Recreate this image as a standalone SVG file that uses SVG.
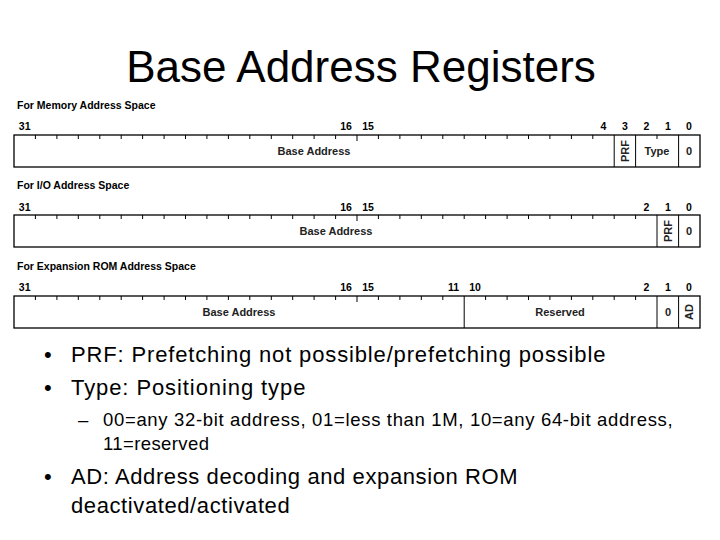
<svg xmlns="http://www.w3.org/2000/svg" width="720" height="540" viewBox="0 0 720 540">
<style>
.t{font-family:"Liberation Sans",Arial,sans-serif;fill:#000}
.s{font-size:10.5px;font-weight:bold}
.n{font-size:10.5px;font-weight:bold;text-anchor:middle}
.c{font-size:11px;font-weight:bold;text-anchor:middle;fill:#222}
.box{fill:#fff;stroke:#000;stroke-width:1.3}
.tk{stroke:#000;stroke-width:1}
.b{font-size:22px;letter-spacing:0.6px}
.b2{font-size:18.5px;letter-spacing:0.4px}
</style>
<rect width="720" height="540" fill="#fff"/>
<text class="t" x="361" y="82" font-size="44" text-anchor="middle">Base Address Registers</text>

<g id="reg-mem">
<text class="t s" x="17" y="109">For Memory Address Space</text>
<text class="t n" x="24.7" y="130">31</text><text class="t n" x="346" y="130">16</text><text class="t n" x="368" y="130">15</text><text class="t n" x="603.5" y="130">4</text><text class="t n" x="625" y="130">3</text><text class="t n" x="646.5" y="130">2</text><text class="t n" x="668" y="130">1</text><text class="t n" x="689" y="130">0</text>
<rect class="box" x="14" y="135" width="686" height="32"/>
<path class="tk" d="M35.4 135v4M56.9 135v4M78.3 135v4M99.8 135v4M121.2 135v4M142.6 135v4M164.1 135v4M185.5 135v4M206.9 135v4M228.4 135v4M249.8 135v4M271.3 135v4M292.7 135v4M314.1 135v4M335.6 135v4M357 135v6M378.4 135v4M399.9 135v4M421.3 135v4M442.8 135v4M464.2 135v4M485.6 135v4M507.1 135v4M528.5 135v4M549.9 135v4M571.4 135v4M592.8 135v4M657 135v4"/>
<path class="tk" d="M614.2 135v32M635.6 135v32M678.6 135v32"/>
<text class="t c" x="314" y="155">Base Address</text>
<text class="t c" transform="translate(629,151) rotate(-90)">PRF</text>
<text class="t c" x="657" y="155">Type</text>
<text class="t c" x="689" y="155">0</text>
</g>

<g id="reg-io">
<text class="t s" x="17" y="189">For I/O Address Space</text>
<text class="t n" x="24.7" y="211">31</text><text class="t n" x="346" y="211">16</text><text class="t n" x="368" y="211">15</text><text class="t n" x="646.5" y="211">2</text><text class="t n" x="668" y="211">1</text><text class="t n" x="689" y="211">0</text>
<rect class="box" x="14" y="215" width="686" height="32"/>
<path class="tk" d="M35.4 215v4M56.9 215v4M78.3 215v4M99.8 215v4M121.2 215v4M142.6 215v4M164.1 215v4M185.5 215v4M206.9 215v4M228.4 215v4M249.8 215v4M271.3 215v4M292.7 215v4M314.1 215v4M335.6 215v4M357 215v6M378.4 215v4M399.9 215v4M421.3 215v4M442.8 215v4M464.2 215v4M485.6 215v4M507.1 215v4M528.5 215v4M549.9 215v4M571.4 215v4M592.8 215v4M614.2 215v4M635.6 215v4"/>
<path class="tk" d="M657 215v32M678.6 215v32"/>
<text class="t c" x="336" y="235">Base Address</text>
<text class="t c" transform="translate(671.5,231) rotate(-90)">PRF</text>
<text class="t c" x="689" y="235">0</text>
</g>

<g id="reg-rom">
<text class="t s" x="17" y="270">For Expansion ROM Address Space</text>
<text class="t n" x="24.7" y="291">31</text><text class="t n" x="346" y="291">16</text><text class="t n" x="368" y="291">15</text><text class="t n" x="453.5" y="291">11</text><text class="t n" x="475" y="291">10</text><text class="t n" x="646.5" y="291">2</text><text class="t n" x="668" y="291">1</text><text class="t n" x="689" y="291">0</text>
<rect class="box" x="14" y="296" width="686" height="32"/>
<path class="tk" d="M35.4 296v4M56.9 296v4M78.3 296v4M99.8 296v4M121.2 296v4M142.6 296v4M164.1 296v4M185.5 296v4M206.9 296v4M228.4 296v4M249.8 296v4M271.3 296v4M292.7 296v4M314.1 296v4M335.6 296v4M357 296v6M378.4 296v4M399.9 296v4M421.3 296v4M442.8 296v4M485.6 296v4M507.1 296v4M528.5 296v4M549.9 296v4M571.4 296v4M592.8 296v4M614.2 296v4M635.6 296v4"/>
<path class="tk" d="M464.2 296v32M657 296v32M678.6 296v32"/>
<text class="t c" x="239" y="316">Base Address</text>
<text class="t c" x="560" y="316">Reserved</text>
<text class="t c" x="668" y="316">0</text>
<text class="t c" transform="translate(693,312) rotate(-90)">AD</text>
</g>

<g id="notes">
<text class="t b" x="44" y="362">•</text><text class="t b" x="71" y="362" textLength="535" lengthAdjust="spacing">PRF: Prefetching not possible/prefetching possible</text>
<text class="t b" x="44" y="395">•</text><text class="t b" x="71" y="395" textLength="235" lengthAdjust="spacing">Type: Positioning type</text>
<text class="t b2" x="78" y="426">–</text><text class="t b2" x="103" y="426" textLength="570" lengthAdjust="spacing">00=any 32-bit address, 01=less than 1M, 10=any 64-bit address,</text>
<text class="t b2" x="103" y="450">11=reserved</text>
<text class="t b" x="44" y="484">•</text><text class="t b" x="71" y="484">AD: Address decoding and expansion ROM</text>
<text class="t b" x="71" y="513">deactivated/activated</text>
</g>
</svg>
